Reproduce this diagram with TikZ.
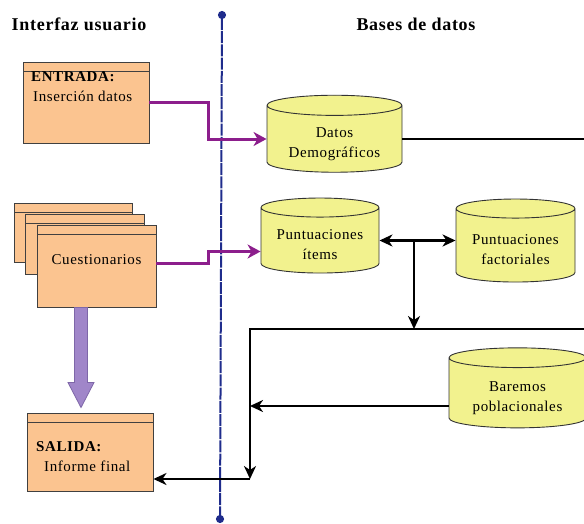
\documentclass[tikz,border=0pt]{standalone}
\usepackage{fontspec}
\setmainfont{Liberation Serif}[LetterSpace=4]
\usepackage{tikz}
\usetikzlibrary{positioning,shapes.geometric,arrows.meta}
\tikzset{node distance=2cm, auto}

\definecolor{boxfill}{HTML}{FBC490}
\definecolor{dbfill}{HTML}{F2F28E}
\definecolor{flowpurple}{HTML}{8C1E8C}
\definecolor{fatfill}{HTML}{A086C9}
\definecolor{fatline}{HTML}{7E67A8}
\definecolor{sepblue}{HTML}{1F2C8C}

\tikzset{
  box/.style={rectangle, draw=black!75, fill=boxfill, line width=0.9pt, inner sep=0pt,
    path picture={\draw [black!75, line width=0.9pt]
      ([yshift=-9pt]path picture bounding box.north west) --
      ([yshift=-9pt]path picture bounding box.north east);}},
  db/.style={cylinder, shape border rotate=90, aspect=0.22, draw=black!80,
    fill=dbfill, line width=0.9pt, align=center, inner sep=0pt,
    text height=37pt, text depth=0pt},
  flow/.style={draw=flowpurple, line width=3pt,
    -{Stealth[length=13pt,width=14pt,inset=4pt]}},
  link/.style={line width=2.7pt},
  tip/.style={-{Stealth[length=13pt,width=12pt,inset=4pt]}},
  tips/.style={{Stealth[length=13pt,width=12pt,inset=4pt]}-{Stealth[length=13pt,width=12pt,inset=4pt]}},
  fat/.style={draw=fatline, fill=fatfill, line width=0.8pt},
  sep/.style={draw=sepblue, line width=2pt, dash pattern=on 12pt off 1.2pt,
    {Circle[length=8pt]}-{Circle[length=8pt]}},
  title/.style={font=\fontsize{18}{20}\selectfont\rmfamily\bfseries},
  boxtext/.style={align=left, inner sep=0pt}
}

\begin{document}
\begin{tikzpicture}[x=1pt, y=-1pt, every node/.style={font=\fontsize{15}{20}\selectfont\rmfamily}]
  \useasboundingbox (0,0) rectangle (584,523);

  \node (titleui) [title] at (79,24) {Interfaz usuario};
  \node (titledb) [title] at (416,24) {Bases de datos};

  \coordinate (sepT) at (222,11);
  \coordinate (sepB) at (220,523);
  \draw [sep] (sepT) -- (sepB);

  % user side
  \node (entrada) [box, minimum width=126pt, minimum height=81pt] at (86,102.5) {};
  \node (entradatxt) [boxtext, anchor=west] at (31,87) {\textbf{ENTRADA:}\\\hspace*{2pt}Inserción datos};

  \node (cuestc) [box, minimum width=118pt, minimum height=59pt] at (73,232.5) {};
  \node (cuestb) [box, minimum width=119pt, minimum height=60pt] at (84.5,244) {};
  \node (cuest) [box, minimum width=119pt, minimum height=82pt] at (96.5,266) {};
  \node (cuesttxt) at ([yshift=6pt]cuest.center) {Cuestionarios};

  \node (salida) [box, minimum width=126pt, minimum height=78pt] at (90,452) {};
  \node (salidatxt) [boxtext, anchor=west] at (36,457) {\textbf{SALIDA:}\\\hspace*{8pt}Informe final};

  % data side
  \node (demog) [db, minimum width=135pt, minimum height=77pt] at (334.5,139) {Datos\\Demográficos};
  \node (items) [db, minimum width=118pt, minimum height=75pt] at (320,240.5) {Puntuaciones\\ítems};
  \node (factor) [db, minimum width=119pt, minimum height=83pt] at (515.5,245.5) {Puntuaciones\\factoriales};
  \node (baremos) [db, minimum width=137pt, minimum height=80pt] at (517.5,393) {Baremos\\poblacionales};

  \coordinate (bendA) at (208,0);
  \coordinate (rim) at (584,0);
  \coordinate (split) at (414,0);
  \coordinate (busW) at (250,329);
  \coordinate (corner) at (250,479);
  \coordinate (itemsin) at ([yshift=-11pt]items.west);
  \coordinate (fatA) at ([xshift=-15.5pt]cuest.south);
  \coordinate (fatB) at ([yshift=5pt]fatA |- salida.north);

  \draw [flow] (entrada.east) -- (entrada.east -| bendA) -- (bendA |- demog.west) -- (demog.west);
  \draw [flow] ([yshift=3pt]cuest.east) -- ([yshift=3pt]cuest.east -| bendA) -- (bendA |- itemsin) -- (itemsin);

  \draw [fat] ([xshift=-6.5pt]fatA) -- ([xshift=-6.5pt,yshift=25pt]fatB) -- ([xshift=-13pt,yshift=25pt]fatB)
    -- (fatB) -- ([xshift=13pt,yshift=25pt]fatB) -- ([xshift=6.5pt,yshift=25pt]fatB) -- ([xshift=6.5pt]fatA) -- cycle;

  \draw [link] (demog.east) -- (demog.east -| rim);
  \draw [link, tips] (items.east) -- (items.east -| factor.west);
  \draw [link, tip] (split |- items.east) -- (split |- busW);
  \draw [link, tip] (busW -| rim) -- (busW) -- (corner);
  \draw [link, tip] ([yshift=-13pt]baremos.west) -- ([yshift=-13pt]baremos.west -| busW);
  \draw [link, tip] (corner) -- (corner -| salida.east);
\end{tikzpicture}
\end{document}
